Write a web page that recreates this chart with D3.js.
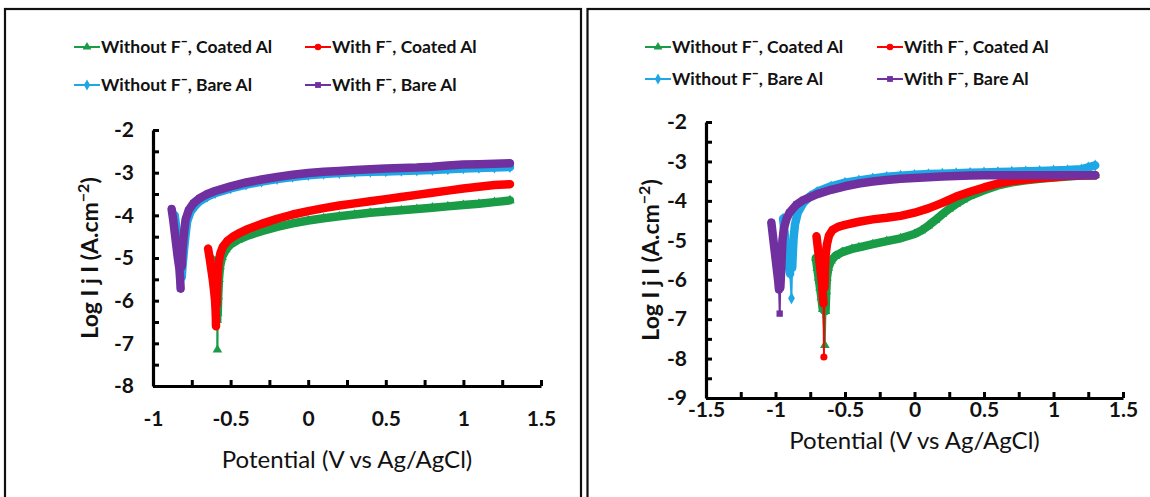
<!DOCTYPE html>
<html>
<head>
<meta charset="utf-8">
<script src="https://cdn.jsdelivr.net/npm/d3@7"></script>
<style>
  body { margin: 0; background: #fff; }
  svg { display: block; font-family: Lato, 'Open Sans', sans-serif; }
</style>
</head>
<body>
<svg id="chart" width="1150" height="497"></svg>
<script>
// legend labels, in series order
const seriesNames = ['Without F¯, Coated Al', 'With F¯, Coated Al', 'Without F¯, Bare Al', 'With F¯, Bare Al']

// tick labels
const xLabelsA = [-1, -0.5, 0, 0.5, 1, 1.5]
const yLabelsA = [-2, -3, -4, -5, -6, -7, -8]
const xLabelsB = [-1.5, -1, -0.5, 0, 0.5, 1, 1.5]
const yLabelsB = [-2, -3, -4, -5, -6, -7, -8, -9]

// panel A : [potential V, log|j|]
const coatedNoF_A = [[-0.612, -5.05], [-0.605, -5.3], [-0.598, -5.6], [-0.592, -5.9], [-0.588, -6.2], [-0.586, -6.45],
  [-0.585, -7.15], [-0.583, -6.3], [-0.58, -5.9], [-0.575, -5.5], [-0.568, -5.2], [-0.555, -4.98], [-0.53, -4.8],
  [-0.5, -4.68], [-0.45, -4.57], [-0.4, -4.49], [-0.3, -4.37], [-0.2, -4.27], [-0.1, -4.19], [0, -4.12], [0.1, -4.07],
  [0.2, -4.02], [0.3, -3.98], [0.4, -3.94], [0.5, -3.91], [0.6, -3.88], [0.7, -3.85], [0.8, -3.82], [0.9, -3.79],
  [1.0, -3.76], [1.1, -3.73], [1.2, -3.69], [1.3, -3.65]]
const coatedF_A = [[-0.645, -4.78], [-0.635, -5.0], [-0.625, -5.25], [-0.615, -5.5], [-0.607, -5.75], [-0.6, -6.0],
  [-0.597, -6.2], [-0.595, -6.4], [-0.594, -6.6], [-0.59, -6.1], [-0.587, -5.7], [-0.583, -5.35], [-0.575, -5.05],
  [-0.565, -4.88], [-0.55, -4.74], [-0.52, -4.6], [-0.48, -4.49], [-0.44, -4.41], [-0.4, -4.34], [-0.3, -4.2],
  [-0.2, -4.08], [-0.1, -3.98], [0, -3.9], [0.1, -3.83], [0.2, -3.77], [0.3, -3.72], [0.4, -3.67], [0.5, -3.62],
  [0.6, -3.57], [0.7, -3.52], [0.8, -3.47], [0.9, -3.42], [1.0, -3.37], [1.1, -3.33], [1.2, -3.29], [1.3, -3.27]]
const bareNoF_A = [[-0.86, -4.0], [-0.85, -4.3], [-0.84, -4.6], [-0.83, -4.9], [-0.82, -5.2], [-0.815, -5.45],
  [-0.81, -5.2], [-0.8, -4.8], [-0.79, -4.45], [-0.78, -4.15], [-0.76, -3.93], [-0.73, -3.78], [-0.7, -3.67],
  [-0.65, -3.56], [-0.6, -3.48], [-0.5, -3.37], [-0.4, -3.28], [-0.3, -3.21], [-0.2, -3.15], [-0.1, -3.1], [0, -3.06],
  [0.1, -3.03], [0.2, -3.01], [0.3, -2.99], [0.4, -2.98], [0.5, -2.97], [0.6, -2.96], [0.7, -2.95], [0.8, -2.94],
  [0.9, -2.92], [1.0, -2.9], [1.1, -2.89], [1.2, -2.88], [1.3, -2.87]]
const bareF_A = [[-0.88, -3.85], [-0.87, -4.1], [-0.86, -4.4], [-0.85, -4.7], [-0.84, -5.0], [-0.83, -5.25],
  [-0.825, -5.5], [-0.822, -5.72], [-0.815, -5.2], [-0.81, -4.8], [-0.8, -4.4], [-0.79, -4.1], [-0.77, -3.88],
  [-0.74, -3.72], [-0.7, -3.6], [-0.65, -3.5], [-0.6, -3.43], [-0.5, -3.32], [-0.4, -3.23], [-0.3, -3.16],
  [-0.2, -3.1], [-0.1, -3.05], [0, -3.01], [0.1, -2.98], [0.2, -2.96], [0.3, -2.94], [0.4, -2.92], [0.5, -2.9],
  [0.6, -2.89], [0.7, -2.88], [0.8, -2.86], [0.9, -2.83], [1.0, -2.81], [1.1, -2.8], [1.2, -2.79], [1.3, -2.78]]

// panel B
const coatedNoF_B = [[-0.71, -5.45], [-0.7, -5.7], [-0.69, -5.95], [-0.68, -6.2], [-0.67, -6.45], [-0.66, -6.75],
  [-0.645, -7.66], [-0.64, -6.8], [-0.635, -6.3], [-0.63, -5.95], [-0.62, -5.7], [-0.6, -5.52], [-0.57, -5.4],
  [-0.52, -5.3], [-0.45, -5.22], [-0.4, -5.18], [-0.3, -5.1], [-0.2, -5.02], [-0.1, -4.95], [0, -4.84], [0.05, -4.75],
  [0.1, -4.63], [0.15, -4.49], [0.2, -4.34], [0.25, -4.2], [0.3, -4.08], [0.35, -3.97], [0.4, -3.87], [0.5, -3.73],
  [0.6, -3.61], [0.7, -3.53], [0.8, -3.48], [0.9, -3.44], [1.0, -3.41], [1.1, -3.38], [1.2, -3.36], [1.3, -3.35]]
const coatedF_B = [[-0.705, -4.9], [-0.695, -5.2], [-0.685, -5.5], [-0.675, -5.8], [-0.665, -6.1], [-0.66, -6.4],
  [-0.655, -6.6], [-0.652, -7.96], [-0.648, -6.2], [-0.645, -5.8], [-0.64, -5.4], [-0.63, -5.1], [-0.615, -4.88],
  [-0.59, -4.74], [-0.55, -4.66], [-0.5, -4.61], [-0.4, -4.53], [-0.3, -4.47], [-0.2, -4.43], [-0.1, -4.38],
  [0, -4.3], [0.1, -4.19], [0.2, -4.05], [0.3, -3.89], [0.4, -3.77], [0.5, -3.66], [0.6, -3.56], [0.7, -3.5],
  [0.8, -3.46], [0.9, -3.43], [1.0, -3.4], [1.1, -3.37], [1.2, -3.36], [1.3, -3.35]]
const bareNoF_B = [[-0.945, -4.45], [-0.935, -4.8], [-0.925, -5.1], [-0.915, -5.4], [-0.905, -5.65], [-0.895, -5.85],
  [-0.885, -6.47], [-0.88, -5.7], [-0.875, -5.3], [-0.87, -4.95], [-0.86, -4.6], [-0.84, -4.3], [-0.8, -4.05],
  [-0.75, -3.88], [-0.7, -3.77], [-0.6, -3.63], [-0.5, -3.54], [-0.4, -3.48], [-0.3, -3.43], [-0.2, -3.39],
  [-0.1, -3.36], [0, -3.34], [0.1, -3.32], [0.2, -3.31], [0.3, -3.3], [0.4, -3.29], [0.5, -3.28], [0.6, -3.27],
  [0.7, -3.26], [0.8, -3.25], [0.9, -3.24], [1.0, -3.23], [1.1, -3.22], [1.2, -3.2], [1.25, -3.15], [1.3, -3.1]]
const bareF_B = [[-1.03, -4.55], [-1.02, -4.85], [-1.01, -5.15], [-1.0, -5.45], [-0.99, -5.75], [-0.98, -6.05],
  [-0.975, -6.25], [-0.97, -6.86], [-0.965, -6.2], [-0.96, -5.8], [-0.955, -5.4], [-0.95, -5.0], [-0.94, -4.7],
  [-0.92, -4.45], [-0.9, -4.3], [-0.85, -4.1], [-0.8, -3.98], [-0.7, -3.83], [-0.6, -3.72], [-0.5, -3.63],
  [-0.4, -3.56], [-0.3, -3.51], [-0.2, -3.47], [-0.1, -3.44], [0, -3.42], [0.1, -3.4], [0.2, -3.38], [0.3, -3.37],
  [0.4, -3.36], [0.5, -3.35], [0.6, -3.35], [0.7, -3.35], [0.8, -3.35], [0.9, -3.35], [1.0, -3.35], [1.1, -3.35],
  [1.2, -3.35], [1.3, -3.35]]

const colors = ['#1a9c47', '#ff0000', '#1ea7e4', '#7030a0']
const symbols = [d3.symbolTriangle, d3.symbolCircle, d3.symbolDiamond, d3.symbolSquare]

const svg = d3.select('#chart')

svg.append('rect').attr('width', 1150).attr('height', 497).attr('fill', '#fff')

// panel frames (bottom / right edges run off the picture)
svg.append('rect')
  .attr('x', 5).attr('y', 9).attr('width', 576).attr('height', 600)
  .attr('fill', 'none').attr('stroke', '#111').attr('stroke-width', 2.2)
svg.append('rect')
  .attr('x', 587.5).attr('y', 9).attr('width', 700).attr('height', 600)
  .attr('fill', 'none').attr('stroke', '#111').attr('stroke-width', 2.2)

drawPanel({
  xDomain: [-1, 1.5], yDomain: [-8, -2],
  xRange: [153, 541], yRange: [386, 130],
  xLabels: xLabelsA, yLabels: yLabelsA,
  xPad: 25, xTitleY: 468, yTitleX: 90,
  legend: { x: [74, 305], y: [47, 85] },
  series: [coatedNoF_A, coatedF_A, bareNoF_A, bareF_A]
})

drawPanel({
  xDomain: [-1.5, 1.5], yDomain: [-9, -2],
  xRange: [706, 1123], yRange: [398, 122],
  xLabels: xLabelsB, yLabels: yLabelsB,
  xPad: 4, xTitleY: 449, yTitleX: 651,
  legend: { x: [645, 877], y: [47, 79] },
  series: [coatedNoF_B, coatedF_B, bareNoF_B, bareF_B]
})

function drawPanel (cfg) {
  const x = d3.scaleLinear().domain(cfg.xDomain).range(cfg.xRange)
  const y = d3.scaleLinear().domain(cfg.yDomain).range(cfg.yRange)
  const g = svg.append('g')

  const xAxis = d3.axisBottom(x)
    .tickValues(d3.range(cfg.xDomain[0], cfg.xDomain[1] + 0.001, 0.25))
    .tickFormat(d => cfg.xLabels.includes(d) ? String(d) : '')
    .tickSizeInner(-6)
    .tickSizeOuter(0)
    .tickPadding(cfg.xPad)

  const yAxis = d3.axisLeft(y)
    .tickValues(d3.range(cfg.yDomain[0], cfg.yDomain[1] + 0.001, 0.5))
    .tickFormat(d => cfg.yLabels.includes(d) ? String(d) : '')
    .tickSizeInner(-6)
    .tickSizeOuter(0)
    .tickPadding(19)

  // series first, axes drawn over them
  cfg.series.forEach((pts, i) => drawSeries(g, x, y, pts, i))

  g.append('g')
    .attr('transform', `translate(0,${cfg.yRange[0]})`)
    .call(xAxis)
    .call(styleAxis)
  g.append('g')
    .attr('transform', `translate(${cfg.xRange[0]},0)`)
    .call(yAxis)
    .call(styleAxis)

  g.append('text')
    .attr('x', (cfg.xRange[0] + cfg.xRange[1]) / 2)
    .attr('y', cfg.xTitleY)
    .attr('text-anchor', 'middle')
    .attr('font-size', 24)
    .attr('fill', '#111')
    .text('Potential (V vs Ag/AgCl)')

  const yt = g.append('text')
    .attr('transform', `translate(${cfg.yTitleX},${(cfg.yRange[0] + cfg.yRange[1]) / 2}) rotate(-90)`)
    .attr('text-anchor', 'middle')
    .attr('dy', '0.35em')
    .attr('font-size', 23)
    .attr('font-weight', 'bold')
    .attr('fill', '#111')
  yt.append('tspan').text('Log I j I (A.cm')
  yt.append('tspan').attr('dy', -9).attr('font-size', 16).text('−2')
  yt.append('tspan').attr('dy', 9).text(')')

  // legend
  seriesNames.forEach((name, i) => {
    const lx = cfg.legend.x[i % 2]
    const ly = cfg.legend.y[Math.floor(i / 2)]
    const item = g.append('g').attr('transform', `translate(${lx},${ly})`)
    item.append('line')
      .attr('x1', 0).attr('x2', 26)
      .attr('stroke', colors[i]).attr('stroke-width', 2)
    item.append('path')
      .attr('transform', 'translate(13,0)')
      .attr('d', d3.symbol().type(symbols[i]).size(34)())
      .attr('fill', colors[i])
    item.append('text')
      .attr('x', 27)
      .attr('dy', '0.36em')
      .attr('font-size', 17.5)
      .attr('font-weight', 'bold')
      .attr('fill', '#111')
      .text(name)
  })
}

function styleAxis (sel) {
  sel.select('.domain').attr('stroke', '#000').attr('stroke-width', 3.2)
  sel.selectAll('.tick line').attr('stroke', '#000').attr('stroke-width', 3)
  sel.selectAll('.tick text')
    .attr('font-size', 21)
    .attr('font-weight', 'bold')
    .attr('fill', '#111')
    .attr('font-family', 'Lato, sans-serif')
}

function drawSeries (g, x, y, pts, i) {
  const px = pts.map(d => [x(d[0]), y(d[1])])
  // closely spaced readings merge into a thick band, big jumps stay a thin line
  const runs = []
  const jumps = []
  let run = [px[0]]
  for (let k = 1; k < px.length; k++) {
    const a = px[k - 1]
    const b = px[k]
    if (Math.hypot(b[0] - a[0], b[1] - a[1]) > 20) {
      jumps.push([a, b])
      runs.push(run)
      run = [b]
    } else {
      run.push(b)
    }
  }
  runs.push(run)

  const line = d3.line()
  const s = g.append('g')

  s.selectAll('.jump')
    .data(jumps)
    .join('path')
    .attr('d', line)
    .attr('fill', 'none')
    .attr('stroke', colors[i])
    .attr('stroke-width', 1.8)

  s.selectAll('.band')
    .data(runs.filter(r => r.length > 1))
    .join('path')
    .attr('d', line)
    .attr('fill', 'none')
    .attr('stroke', colors[i])
    .attr('stroke-width', 8.5)
    .attr('stroke-linejoin', 'round')
    .attr('stroke-linecap', 'round')

  s.selectAll('.mark')
    .data(px)
    .join('path')
    .attr('transform', d => `translate(${d[0]},${d[1]})`)
    .attr('d', d3.symbol().type(symbols[i]).size(40)())
    .attr('fill', colors[i])
}
</script>
</body>
</html>
